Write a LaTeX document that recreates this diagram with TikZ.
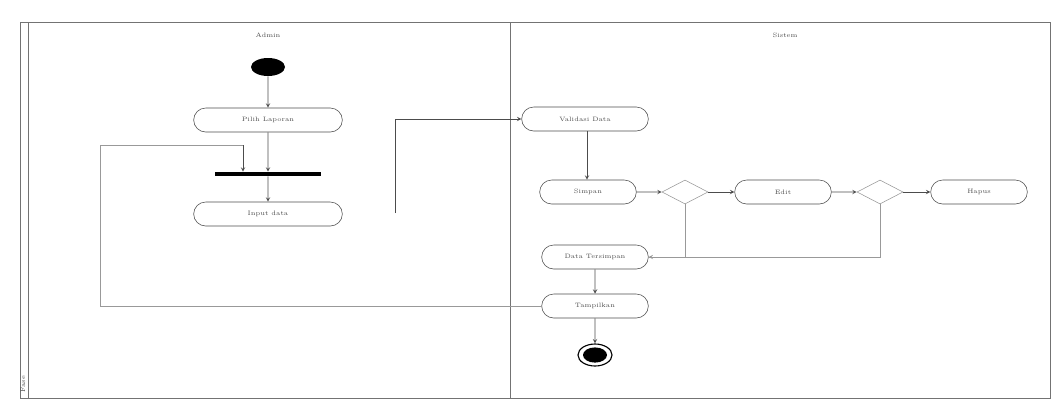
\documentclass[tikz,border=0pt]{standalone}
\usetikzlibrary{shapes.geometric,shapes.misc}
\begin{document}
\begin{tikzpicture}[x=0.025cm,y=-0.025cm,
    font=\fontsize{4.5}{5}\selectfont,
    act/.style={rounded rectangle,draw=black!70,thin,minimum height=0.6cm,text=black!70},
    dec/.style={diamond,draw=black!40,thin,minimum width=1.15cm,minimum height=0.6cm,inner sep=0pt},
    flow/.style={->,>=stealth,draw=black!70,thin},
    lane/.style={draw=black!55,thin}]
  \useasboundingbox (0,0) rectangle (1056,403);
  % swimlanes
  \draw[lane] (20,22) rectangle (1050,398);
  \draw[lane] (28,22) -- (28,398);
  \draw[lane] (510,22) -- (510,398);
  \node[rotate=90,text=black!70] (pool) at (23,384) {Fase};
  \node[text=black!70] (admin) at (268,35) {Admin};
  \node[text=black!70] (sistem) at (785,35) {Sistem};
  % admin
  \node[ellipse,fill=black,minimum width=0.85cm,minimum height=0.45cm,inner sep=0pt] (start) at (268,67) {};
  \node[act,minimum width=3.95cm] (pilih) at (268,120) {Pilih Laporan};
  \node[fill=black,minimum width=2.65cm,minimum height=0.1cm,inner sep=0pt] (bar) at (268,174) {};
  \node[act,minimum width=3.95cm] (input) at (268,214) {Input data};
  % sistem
  \node[act,minimum width=3.4cm] (validasi) at (585,119) {Validasi Data};
  \node[act,minimum width=2.65cm] (simpan) at (588,192) {Simpan};
  \node[dec] (d1) at (685,192) {};
  \node[act,minimum width=2.65cm] (edit) at (783,192) {Edit};
  \node[dec] (d2) at (880,192) {};
  \node[act,minimum width=2.65cm] (hapus) at (979,192) {Hapus};
  \node[act,minimum width=2.9cm] (tersimpan) at (595,257) {Data Tersimpan};
  \node[act,minimum width=2.9cm] (selesai) at (595,306) {Tampilkan};
  \node[ellipse,draw=black,thick,minimum width=0.85cm,minimum height=0.55cm] (stop) at (595,355) {};
  \node[ellipse,fill=black,minimum width=0.6cm,minimum height=0.38cm] (stopin) at (595,355) {};
  % bends
  \coordinate (c1) at (395,213);
  \coordinate (c2) at (100,145);
  \coordinate (c3) at (243,145);
  % flows
  \draw[flow] (start) -- (pilih);
  \draw[flow] (pilih) -- (bar);
  \draw[flow] (bar) -- (input);
  \draw[flow] (c1) |- (validasi);
  \draw[flow] (validasi.south -| 587,0) -- (simpan.north -| 587,0);
  \draw[flow] (simpan) -- (d1);
  \draw[flow] (d1) -- (edit);
  \draw[flow] (edit) -- (d2);
  \draw[flow] (d2) -- (hapus);
  \draw[draw=black!40,thin] (d1.south) |- (tersimpan.east);
  \draw[flow,draw=black!40] (d2.south) |- (tersimpan.east);
  \draw[flow] (tersimpan) -- (selesai);
  \draw[flow] (selesai) -- (stop);
  \draw[draw=black!40,thin] (selesai.west) -| (c2) -- (c3);
  \draw[flow] (c3) -- (c3 |- bar.north);
\end{tikzpicture}
\end{document}
